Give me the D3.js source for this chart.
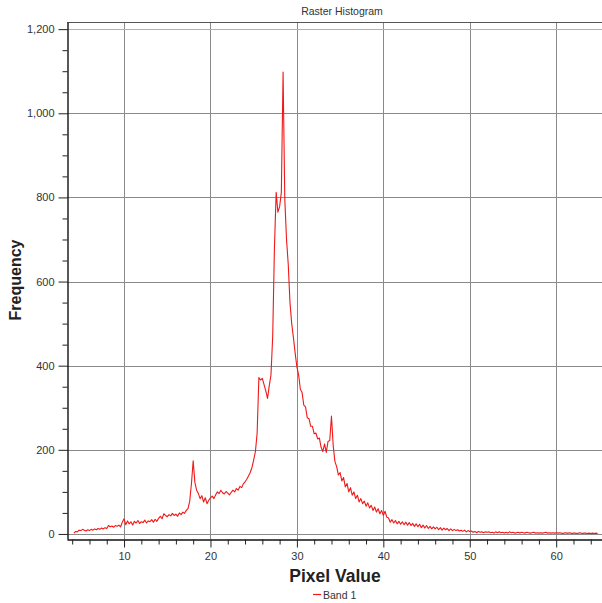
<!DOCTYPE html>
<html lang="en">
<head>
    <meta charset="UTF-8">
    <title>Raster Histogram</title>
    <style>
        body { margin: 0; background: #fff; }
        svg { display: block; font-family: "Liberation Sans", "DejaVu Sans", sans-serif; }
        .tick text { fill: #333; font-size: 11px; }
    </style>
</head>
<body>
    <svg id="chart"></svg>

    <script src="https://d3js.org/d3.v7.min.js"></script>
    <script>
        // histogram bins: first bin centre and bin width (pixel value units)
        var binStart = 4.2;
        var binWidth = 0.2;

        // frequency per bin, 10 bins per row (each row covers 2 pixel values)
        var frequency = [
            2, 6, 5, 9, 8, 11, 9, 7, 10, 8,              // 4.2 - 6.0
            11, 9, 12, 10, 13, 11, 14, 12, 15, 13,       // 6.2 - 8.0
            20, 17, 19, 16, 20, 18, 21, 17, 28, 36,      // 8.2 - 10.0
            22, 31, 24, 29, 21, 30, 26, 32, 25, 29,      // 10.2 - 12.0
            27, 33, 26, 31, 29, 34, 28, 35, 30, 37,      // 12.2 - 14.0
            42, 36, 48, 44, 41, 46, 43, 49, 44, 47,      // 14.2 - 16.0
            42, 50, 46, 52, 49, 56, 60, 78, 120, 174,    // 16.2 - 18.0
            122, 104, 96, 84, 91, 76, 86, 72, 80, 86,    // 18.2 - 20.0
            90, 84, 93, 100, 96, 104, 98, 95, 101, 97,   // 20.2 - 22.0
            93, 99, 104, 100, 108, 104, 113, 110, 119, 124, // 22.2 - 24.0
            130, 138, 146, 158, 176, 196, 240, 372, 366, 370, // 24.2 - 26.0
            355, 340, 322, 352, 378, 470, 680, 812, 765, 778, // 26.2 - 28.0
            812, 1098, 795, 700, 640, 550, 500, 466, 430, 397, // 28.2 - 30.0
            378, 344, 336, 306, 302, 276, 274, 256, 256, 238,  // 30.2 - 32.0
            240, 226, 228, 206, 196, 214, 194, 220, 222, 280,  // 32.2 - 34.0
            210, 172, 160, 140, 146, 126, 134, 112, 120, 100,  // 34.2 - 36.0
            110, 92, 100, 84, 92, 76, 84, 72, 78, 66,    // 36.2 - 38.0
            74, 62, 68, 56, 64, 52, 60, 48, 56, 44,      // 38.2 - 40.0
            54, 40, 38, 28, 34, 26, 32, 24, 30, 23,      // 40.2 - 42.0
            29, 22, 28, 21, 27, 20, 25, 18, 24, 17,      // 42.2 - 44.0
            23, 15, 21, 14, 20, 13, 18, 12, 17, 12,      // 44.2 - 46.0
            16, 10, 15, 9, 14, 10, 13, 8, 12, 8,         // 46.2 - 48.0
            11, 8, 10, 7, 9, 6, 9, 5, 8, 6,              // 48.2 - 50.0
            7, 4, 6, 3, 6, 4, 5, 3, 5, 4,                // 50.2 - 52.0
            5, 3, 4, 2, 5, 3, 5, 3, 4, 2,                // 52.2 - 54.0
            4, 2, 5, 3, 4, 2, 3, 4, 2, 4,                // 54.2 - 56.0
            3, 2, 4, 3, 2, 3, 4, 2, 3, 2,                // 56.2 - 58.0
            3, 2, 3, 4, 2, 3, 2, 3, 2, 3,                // 58.2 - 60.0
            2, 3, 2, 1, 3, 2, 2, 3, 1, 2,                // 60.2 - 62.0
            2, 1, 2, 3, 1, 2, 2, 1, 2, 1,                // 62.2 - 64.0
            2, 1, 2, 1                                   // 64.2 - 64.8
        ];

        var xMajorTicks = [10, 20, 30, 40, 50, 60];
        var xMinorTicks = [4, 6, 8, 12, 14, 16, 18, 22, 24, 26, 28, 32, 34, 36, 38, 42, 44, 46, 48, 52, 54, 56, 58, 62, 64];
        var yMajorTicks = [0, 200, 400, 600, 800, 1000, 1200];
        var yMinorTicks = [50, 100, 150, 250, 300, 350, 450, 500, 550, 650, 700, 750, 850, 900, 950, 1050, 1100, 1150];

        var W = 602, H = 603;
        var plotLeft = 67, plotRight = 602, plotTop = 22, plotBottom = 539;

        var svg = d3.select('#chart').attr('width', W).attr('height', H);

        var x = d3.scaleLinear().domain([3.4, 65.3]).range([plotLeft, plotRight]);
        var y = d3.scaleLinear().domain([-12, 1217]).range([plotBottom, plotTop]);

        // grid
        svg.append('g').selectAll('line')
            .data(xMajorTicks).enter().append('line')
            .attr('x1', function(d) { return Math.round(x(d)) + 0.5; })
            .attr('x2', function(d) { return Math.round(x(d)) + 0.5; })
            .attr('y1', plotTop).attr('y2', plotBottom)
            .attr('stroke', '#8a8a8a').attr('stroke-width', 1);

        svg.append('g').selectAll('line')
            .data(yMajorTicks).enter().append('line')
            .attr('x1', plotLeft).attr('x2', plotRight)
            .attr('y1', function(d) { return Math.round(y(d)) + 0.5; })
            .attr('y2', function(d) { return Math.round(y(d)) + 0.5; })
            .attr('stroke', function(d) { return d === 1200 ? '#b0b0b0' : '#8a8a8a'; })
            .attr('stroke-width', 1);

        // top frame line
        svg.append('line')
            .attr('x1', plotLeft).attr('x2', plotRight)
            .attr('y1', plotTop + 0.5).attr('y2', plotTop + 0.5)
            .attr('stroke', '#555').attr('stroke-width', 1);

        // histogram line
        var line = d3.line()
            .x(function(d, i) { return x(binStart + i * binWidth); })
            .y(function(d) { return y(d); });

        svg.append('path')
            .datum(frequency)
            .attr('d', line)
            .attr('fill', 'none')
            .attr('stroke', '#f01818')
            .attr('stroke-width', 1.1)
            .attr('stroke-linejoin', 'round');

        // axes
        svg.append('g')
            .attr('transform', 'translate(0,' + (plotBottom + 0.5) + ')')
            .call(d3.axisBottom(x).tickValues(xMajorTicks).tickSize(8).tickPadding(5).tickSizeOuter(0));
        svg.append('g')
            .attr('transform', 'translate(0,' + (plotBottom + 0.5) + ')')
            .call(d3.axisBottom(x).tickValues(xMinorTicks).tickSize(5).tickFormat('').tickSizeOuter(0))
            .select('.domain').remove();

        svg.append('g')
            .attr('transform', 'translate(' + (plotLeft + 0.5) + ',0)')
            .call(d3.axisLeft(y).tickValues(yMajorTicks).tickSize(9).tickPadding(4)
                .tickFormat(d3.format(',')).tickSizeOuter(0));
        svg.append('g')
            .attr('transform', 'translate(' + (plotLeft + 0.5) + ',0)')
            .call(d3.axisLeft(y).tickValues(yMinorTicks).tickSize(5).tickFormat('').tickSizeOuter(0))
            .select('.domain').remove();

        svg.selectAll('.domain').attr('stroke', '#111').attr('stroke-width', 1.4);
        svg.selectAll('.tick line').attr('stroke', '#222');

        // titles
        svg.append('text')
            .attr('x', 342).attr('y', 15)
            .attr('text-anchor', 'middle')
            .attr('font-size', 10.5).attr('fill', '#333')
            .text('Raster Histogram');

        svg.append('text')
            .attr('transform', 'translate(21,' + 280 + ') rotate(-90)')
            .attr('text-anchor', 'middle')
            .attr('font-size', 16).attr('font-weight', 'bold').attr('fill', '#222')
            .text('Frequency');

        svg.append('text')
            .attr('x', 335).attr('y', 582)
            .attr('text-anchor', 'middle')
            .attr('font-size', 17.5).attr('font-weight', 'bold').attr('fill', '#222')
            .text('Pixel Value');

        // legend
        svg.append('line')
            .attr('x1', 313).attr('x2', 321)
            .attr('y1', 594.5).attr('y2', 594.5)
            .attr('stroke', '#f01818').attr('stroke-width', 1.2);
        svg.append('text')
            .attr('x', 323).attr('y', 598.5)
            .attr('font-size', 10.5).attr('fill', '#333')
            .text('Band 1');
    </script>
</body>
</html>
